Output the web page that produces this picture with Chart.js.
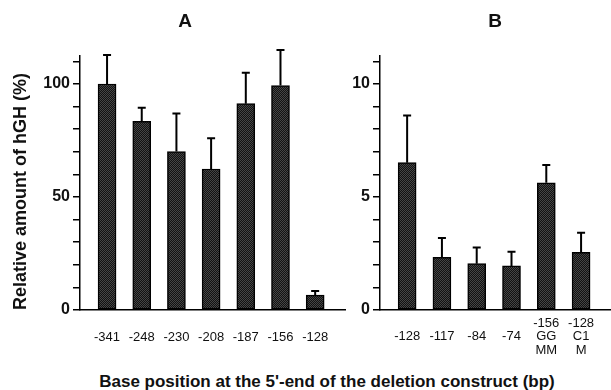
<!DOCTYPE html>
<html>
<head>
<meta charset="utf-8">
<script src="https://cdn.jsdelivr.net/npm/chart.js@4"></script>
<style>
  html, body { margin: 0; padding: 0; background: #fff; }
  #wrap { position: relative; width: 611px; height: 390px; overflow: hidden; font-family: "Liberation Sans", Arial, sans-serif; color: #111; }
  canvas { position: absolute; top: 0; }
  #chartA { left: 0; }
  #chartB { left: 300px; }
  .panel { position: absolute; top: 10px; font-weight: bold; font-size: 19px; width: 40px; text-align: center; }
  #xtitle { position: absolute; left: 0; width: 654px; top: 372px; text-align: center; font-weight: bold; font-size: 17px; }
</style>
</head>
<body>
<div id="wrap">
  <canvas id="chartA" width="350" height="350"></canvas>
  <canvas id="chartB" width="311" height="362"></canvas>
  <div class="panel" style="left:165px">A</div>
  <div class="panel" style="left:475px">B</div>
  <div id="xtitle">Base position at the 5'-end of the deletion construct (bp)</div>
</div>
<script>
// ====== DATOS ======
const labelsA = ['-341', '-248', '-230', '-208', '-187', '-156', '-128'];
const valuesA = [100, 83.5, 70.1, 62.4, 91.3, 99.3, 6.6];
const errorsA = [12.8, 6.0, 16.8, 13.6, 13.7, 15.7, 1.8];

const labelsB = ['-128', '-117', '-84', '-74', ['-156', 'GG', 'MM'], ['-128', 'C1', 'M']];
const valuesB = [6.52, 2.33, 2.05, 1.95, 5.63, 2.55];
const errorsB = [2.09, 0.86, 0.72, 0.63, 0.79, 0.87];

const yTitle = 'Relative amount of hGH (%)';

Chart.defaults.font.family = '"Liberation Sans", Arial, sans-serif';
Chart.defaults.color = '#111';

// textura punteada de las barras
function barPattern() {
    const c = document.createElement('canvas');
    c.width = 2; c.height = 2;
    const g = c.getContext('2d');
    g.fillStyle = '#121212'; g.fillRect(0, 0, 2, 2);
    g.fillStyle = '#454545'; g.fillRect(0, 0, 1, 1); g.fillRect(1, 1, 1, 1);
    return g.createPattern(c, 'repeat');
}

// barras de error (solo hacia arriba)
const errorBars = {
    id: 'errorBars',
    afterDatasetsDraw(chart, args, opts) {
        const ctx = chart.ctx;
        const y = chart.scales.y;
        const meta = chart.getDatasetMeta(0);
        ctx.save();
        ctx.strokeStyle = '#000';
        ctx.lineWidth = 2;
        meta.data.forEach((bar, i) => {
            const top = y.getPixelForValue(opts.values[i] + opts.errors[i]);
            ctx.beginPath();
            ctx.moveTo(bar.x, bar.y);
            ctx.lineTo(bar.x, top);
            ctx.moveTo(bar.x - 4, top);
            ctx.lineTo(bar.x + 4, top);
            ctx.stroke();
        });
        ctx.restore();
    }
};

function makeChart(id, labels, values, errors, cfg) {
    const points = values.map((v, i) => ({ x: i, y: v }));
    return new Chart(document.getElementById(id), {
        type: 'bar',
        data: {
            datasets: [{
                data: points,
                backgroundColor: barPattern(),
                borderColor: '#000',
                borderWidth: 1.5,
                borderSkipped: false,
                barThickness: 18
            }]
        },
        options: {
            responsive: false,
            animation: false,
            layout: { padding: { top: 56, right: cfg.right, left: 0, bottom: 0 } },
            plugins: {
                legend: { display: false },
                tooltip: { enabled: false },
                errorBars: { values: values, errors: errors }
            },
            scales: {
                x: {
                    type: 'linear',
                    offset: false,
                    min: -0.78,
                    max: labels.length - 1 + cfg.xEnd,
                    afterFit: s => { s.height = cfg.xHeight; },
                    grid: { display: false },
                    border: { display: true, color: '#000', width: 1.5 },
                    ticks: {
                        stepSize: 1,
                        includeBounds: false,
                        autoSkip: false,
                        maxRotation: 0,
                        crossAlign: 'center',
                        padding: cfg.xPad,
                        font: { size: 13, lineHeight: 1.05 },
                        callback: v => (Number.isInteger(v) && labels[v] !== undefined) ? labels[v] : null
                    }
                },
                y: {
                    min: 0,
                    max: cfg.yMax,
                    afterFit: s => { s.width = 80; },
                    grid: { display: true, drawOnChartArea: false, drawTicks: true, tickLength: 7, color: '#000', lineWidth: 1.5 },
                    border: { display: true, color: '#000', width: 1.5 },
                    title: {
                        display: cfg.title,
                        text: yTitle,
                        align: 'start',
                        font: { size: 18, weight: 'bold' },
                        padding: { top: 10, bottom: 0 }
                    },
                    ticks: {
                        stepSize: cfg.step,
                        includeBounds: false,
                        padding: 3,
                        font: { size: 16, weight: 'bold' },
                        callback: v => (v % (cfg.step * 5) === 0) ? String(v) : ''
                    }
                }
            }
        },
        plugins: [errorBars]
    });
}

makeChart('chartA', labelsA, valuesA, errorsA, { right: 5, xEnd: 0.86, yMax: 112.4, step: 10, title: true, xPad: 19, xHeight: 40 });
makeChart('chartB', labelsB, valuesB, errorsB, { right: 0, xEnd: 0.86, yMax: 11.24, step: 1, title: false, xPad: 5, xHeight: 52 });
</script>
</body>
</html>
